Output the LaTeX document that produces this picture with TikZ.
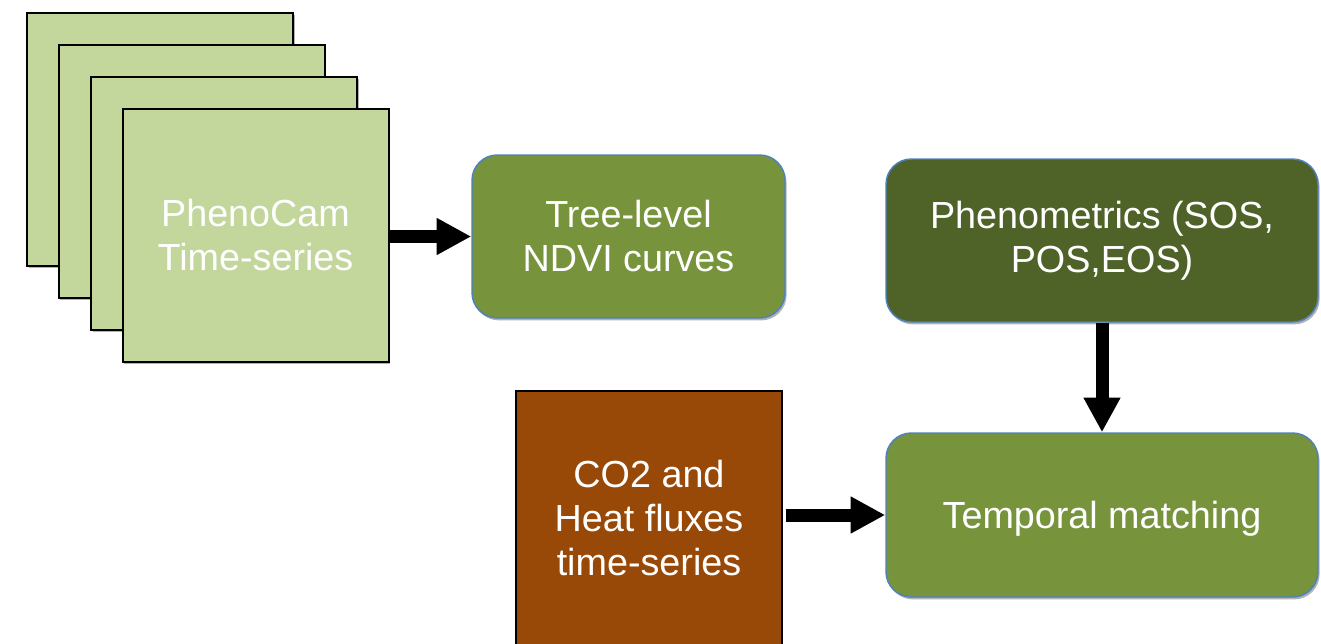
\documentclass[tikz,border=0pt]{standalone}
\usepackage{fontspec}
\setmainfont{Liberation Sans}
\usetikzlibrary{arrows.meta,shadows}
\definecolor{lightgreen}{HTML}{C3D69B}
\definecolor{midgreen}{HTML}{77933C}
\definecolor{darkgreen}{HTML}{4F6228}
\definecolor{brownbox}{HTML}{984807}
\definecolor{blueborder}{HTML}{4F81BD}
\tikzset{
  boxshadow/.style={drop shadow={shadow xshift=1.2pt,shadow yshift=-1.8pt,opacity=0.3,fill=black}},
  txt/.style={text=white,align=center,font=\fontsize{28.3}{33}\selectfont},
  camsq/.style={draw=black,line width=1.5pt,fill=lightgreen,minimum width=199.5pt,minimum height=189.75pt,inner sep=0pt,boxshadow,txt},
  roundbox/.style={draw=blueborder,line width=1.1pt,rounded corners=19pt,inner sep=0pt,boxshadow,txt},
  fluxbox/.style={draw=black,line width=1.1pt,fill=brownbox,minimum width=199.5pt,minimum height=190.5pt,inner sep=0pt,txt},
  bigarrow/.style={line width=9.75pt,-{Triangle[length=26pt,width=26pt]}}
}
\begin{document}
\begin{tikzpicture}[x=0.75pt,y=-0.75pt]
\useasboundingbox (0,0) rectangle (1321,643);
\node[camsq] (sq1) at (160,139.5) {};
\node[camsq] (sq2) at (191.5,171.5) {};
\node[camsq] (sq3) at (224,203.5) {};
\node[camsq] (sq4) at (255.5,235.5) {PhenoCam\\Time-series};
\node[roundbox,fill=midgreen,minimum width=234.75pt,minimum height=122.25pt] (tree) at (628.5,236.5) {Tree-level\\NDVI curves};
\node[roundbox,fill=darkgreen,minimum width=324pt,minimum height=122.25pt] (pheno) at (1102,240.5) {Phenometrics (SOS,\\POS,EOS)};
\node[roundbox,fill=midgreen,minimum width=324pt,minimum height=123pt,text depth=0pt] (temporal) at (1102,515) {Temporal matching};
\node[fluxbox] (flux) at (649,518) {CO2 and\\Heat fluxes\\time-series};
\draw[bigarrow] (sq4.east |- tree.west) -- (tree.west);
\draw[bigarrow] (pheno.south) -- (temporal.north);
\draw[bigarrow,shorten <=2.25pt] (flux.east |- temporal.west) -- (temporal.west);
\end{tikzpicture}
\end{document}
